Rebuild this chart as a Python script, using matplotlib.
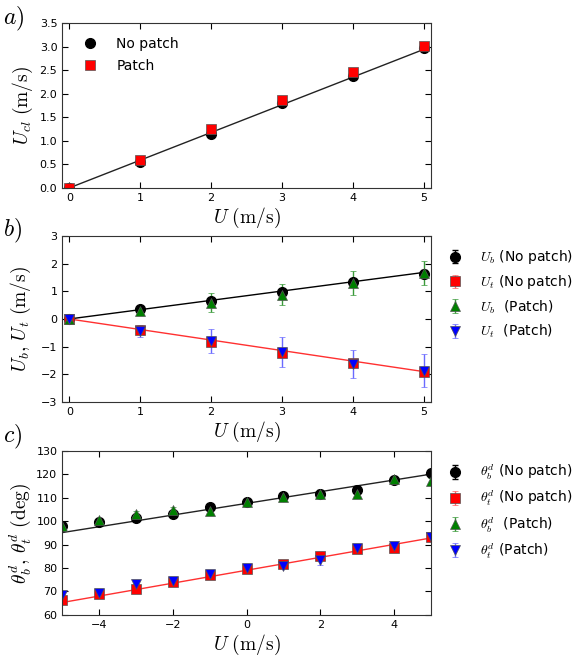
import matplotlib as mpl
mpl.use('Agg')
import matplotlib.pyplot as plt

mpl.rcParams['mathtext.fontset'] = 'cm'
mpl.rcParams['font.family'] = 'DejaVu Sans'
mpl.rcParams['xtick.direction'] = 'in'
mpl.rcParams['ytick.direction'] = 'in'
mpl.rcParams['xtick.top'] = True
mpl.rcParams['ytick.right'] = True
mpl.rcParams['xtick.major.size'] = 4
mpl.rcParams['ytick.major.size'] = 4
mpl.rcParams['axes.edgecolor'] = '#333333'

# ---- panel a data ----
A_U = [0, 1, 2, 3, 4, 5]
A_NOPATCH = [0.0, 0.55, 1.15, 1.80, 2.38, 2.97]
A_PATCH = [0.0, 0.60, 1.25, 1.86, 2.47, 3.02]
A_FIT_X = [0, 5]
A_FIT_Y = [0.0, 2.94]

# ---- panel b data ----
B_U = [0, 1, 2, 3, 4, 5]
B_UB_NOPATCH = [0.0, 0.35, 0.66, 0.97, 1.33, 1.62]
B_UB_NOPATCH_ERR = [0.0, 0.08, 0.1, 0.12, 0.12, 0.15]
B_UT_NOPATCH = [0.0, -0.40, -0.82, -1.24, -1.58, -1.90]
B_UT_NOPATCH_ERR = [0.0, 0.05, 0.08, 0.1, 0.1, 0.1]
B_UB_PATCH = [0.0, 0.30, 0.58, 0.88, 1.29, 1.66]
B_UB_PATCH_ERR = [0.0, 0.15, 0.34, 0.38, 0.43, 0.43]
B_UT_PATCH = [0.0, -0.43, -0.80, -1.20, -1.63, -1.87]
B_UT_PATCH_ERR = [0.0, 0.22, 0.43, 0.54, 0.5, 0.6]
B_FIT_X = [0, 5]
B_FIT_B = [0.0, 1.68]
B_FIT_T = [0.0, -1.90]

# ---- panel c data ----
C_U = [-5, -4, -3, -2, -1, 0, 1, 2, 3, 4, 5]
C_TB_NOPATCH = [97.7, 99.8, 101.5, 103.1, 105.8, 108.3, 110.8, 111.6, 113.4, 117.6, 120.3]
C_TB_PATCH = [97.8, 100.5, 103.0, 104.8, 104.5, 108.0, 110.4, 111.7, 111.6, 117.8, 117.2]
C_TT_NOPATCH = [66.4, 69.0, 71.0, 74.0, 77.0, 79.6, 81.8, 85.0, 88.0, 88.4, 93.2]
C_TT_PATCH = [68.5, 69.2, 73.0, 74.5, 77.4, 80.0, 81.0, 83.5, 88.5, 89.2, 93.4]
C_ERR = [1.0, 1.0, 1.5, 1.0, 1.0, 1.0, 1.0, 1.5, 1.5, 1.0, 1.0]
C_ERR_P = [1.0, 1.0, 2.0, 1.0, 1.0, 1.0, 1.0, 2.0, 1.5, 1.0, 1.0]
C_FIT_X = [-5, 5]
C_FIT_B = [95.1, 120.0]
C_FIT_T = [65.3, 92.8]

MS = 7
MEC = '#555555'
LABEL_FS = 14
TICK_FS = 8
LEG_FS = 10

fig = plt.figure(figsize=(5.76, 6.57), dpi=100)
ax_a = fig.add_axes([0.108, 0.714, 0.640, 0.251])
ax_b = fig.add_axes([0.108, 0.388, 0.640, 0.253])
ax_c = fig.add_axes([0.108, 0.064, 0.640, 0.250])

# panel a
ax_a.plot(A_FIT_X, A_FIT_Y, color='#222222', lw=1)
ax_a.plot(A_U, A_NOPATCH, 'o', color='black', ms=MS, mec='black', label='No patch')
ax_a.plot(A_U, A_PATCH, 's', color='red', ms=MS, mec=MEC, mew=0.5, label='Patch')
ax_a.set_xlim(-0.1, 5.1)
ax_a.set_ylim(0, 3.5)
ax_a.set_yticks([0, 0.5, 1.0, 1.5, 2.0, 2.5, 3.0, 3.5])
ax_a.set_yticklabels(['0.0', '0.5', '1.0', '1.5', '2.0', '2.5', '3.0', '3.5'])
ax_a.set_xticks([0, 1, 2, 3, 4, 5])
ax_a.set_xlabel(r'$U\ \mathrm{(m/s)}$', fontsize=LABEL_FS, labelpad=2)
ax_a.set_ylabel(r'$U_{cl}\ \mathrm{(m/s)}$', fontsize=LABEL_FS, labelpad=3)
ax_a.legend(loc='upper left', frameon=False, numpoints=1, fontsize=LEG_FS,
            handletextpad=0.9, borderaxespad=0.6, labelspacing=0.6)

# panel b
ax_b.plot(B_FIT_X, B_FIT_B, color='black', lw=1)
ax_b.plot(B_FIT_X, B_FIT_T, color='#ff3030', lw=1)
ax_b.errorbar(B_U, B_UB_NOPATCH, yerr=B_UB_NOPATCH_ERR, fmt='o', color='black', ecolor='black',
              ms=MS, mec='black', capsize=2, elinewidth=1, label=r'$U_b$ (No patch)')
ax_b.errorbar(B_U, B_UT_NOPATCH, yerr=B_UT_NOPATCH_ERR, fmt='s', color='red', ecolor='#ff6060',
              ms=MS, mec=MEC, mew=0.5, capsize=2, elinewidth=1, label=r'$U_t$ (No patch)')
ax_b.errorbar(B_U, B_UB_PATCH, yerr=B_UB_PATCH_ERR, fmt='^', color='green', ecolor='#3a9a3a',
              ms=MS, mec=MEC, mew=0.5, capsize=2, elinewidth=1, label=r'$U_b$  (Patch)')
ax_b.errorbar(B_U, B_UT_PATCH, yerr=B_UT_PATCH_ERR, fmt='v', color='blue', ecolor='#6a6aff',
              ms=MS, mec=MEC, mew=0.5, capsize=2, elinewidth=1, label=r'$U_t$  (Patch)')
ax_b.set_xlim(-0.1, 5.1)
ax_b.set_ylim(-3, 3)
ax_b.set_xticks([0, 1, 2, 3, 4, 5])
ax_b.set_yticks([-3, -2, -1, 0, 1, 2, 3])
ax_b.set_xlabel(r'$U\ \mathrm{(m/s)}$', fontsize=LABEL_FS, labelpad=2)
ax_b.set_ylabel(r'$U_b,\,U_t\ \mathrm{(m/s)}$', fontsize=LABEL_FS, labelpad=6)
ax_b.legend(loc='upper left', bbox_to_anchor=(0.995, 1.0), frameon=False, numpoints=1,
            fontsize=LEG_FS, handletextpad=0.8, labelspacing=0.5)

# panel c
ax_c.plot(C_FIT_X, C_FIT_B, color='#222222', lw=1)
ax_c.plot(C_FIT_X, C_FIT_T, color='#ff3030', lw=1)
ax_c.errorbar(C_U, C_TB_NOPATCH, yerr=C_ERR, fmt='o', color='black', ecolor='black',
              ms=MS, mec='black', capsize=2, elinewidth=1, label=r'$\theta_b^d$ (No patch)')
ax_c.errorbar(C_U, C_TT_NOPATCH, yerr=C_ERR, fmt='s', color='red', ecolor='#ff6060',
              ms=MS, mec=MEC, mew=0.5, capsize=2, elinewidth=1, label=r'$\theta_t^d$ (No patch)')
ax_c.errorbar(C_U, C_TB_PATCH, yerr=C_ERR, fmt='^', color='green', ecolor='#3a9a3a',
              ms=MS, mec=MEC, mew=0.5, capsize=2, elinewidth=1, label=r'$\theta_b^d$  (Patch)')
ax_c.errorbar(C_U, C_TT_PATCH, yerr=C_ERR_P, fmt='v', color='blue', ecolor='#6a6aff',
              ms=MS, mec=MEC, mew=0.5, capsize=2, elinewidth=1, label=r'$\theta_t^d$ (Patch)')
ax_c.set_xlim(-5, 5)
ax_c.set_ylim(60, 130)
ax_c.set_xticks([-4, -2, 0, 2, 4])
ax_c.set_yticks([60, 70, 80, 90, 100, 110, 120, 130])
ax_c.set_xlabel(r'$U\ \mathrm{(m/s)}$', fontsize=LABEL_FS, labelpad=2)
ax_c.set_ylabel(r'$\theta_b^d,\,\theta_t^d\ \mathrm{(deg)}$', fontsize=LABEL_FS, labelpad=2)
ax_c.legend(loc='upper left', bbox_to_anchor=(0.995, 1.0), frameon=False, numpoints=1,
            fontsize=LEG_FS, handletextpad=0.8, labelspacing=0.5)

for ax in (ax_a, ax_b, ax_c):
    ax.tick_params(labelsize=TICK_FS, width=0.8)

fig.text(0.005, 0.971, r'$a)$', fontsize=17, va='center')
fig.text(0.005, 0.648, r'$b)$', fontsize=17, va='center')
fig.text(0.005, 0.335, r'$c)$', fontsize=17, va='center')

fig.savefig('out.png', dpi=100, facecolor='white')
